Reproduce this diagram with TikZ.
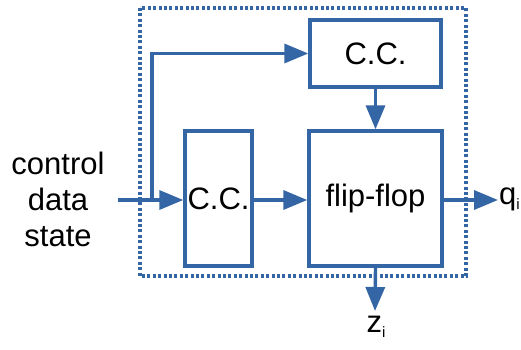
\documentclass[tikz,border=0pt]{standalone}
\usepackage{fontspec}
\setmainfont{Liberation Sans}
\usetikzlibrary{arrows.meta}
\definecolor{lineblue}{HTML}{3465A4}
\newcommand{\lowsub}[1]{\raisebox{-5pt}{\fontsize{15}{15}\selectfont #1}}
\begin{document}
\begin{tikzpicture}[x=1pt,y=-1pt,
  blk/.style={draw=lineblue,line width=3.4pt,inner sep=0pt,font=\fontsize{31}{36}\selectfont},
  flow/.style={draw=lineblue,line width=3.4pt,-{Triangle[length=24pt,width=19pt]}},
  lbl/.style={font=\fontsize{31}{36}\selectfont,inner sep=0pt}]
  \useasboundingbox (0,0) rectangle (521,350);
  % frame around the sequential cell
  \draw[lineblue,line width=3.4pt,dash pattern=on 3pt off 2.4pt] (140,8) rectangle (466,276);
  % blocks
  \node[blk,minimum width=131pt,minimum height=67pt] (cctop) at (375.5,53.5) {C.C.};
  \node[blk,minimum width=67pt,minimum height=135pt] (ccleft) at (218.5,198.5) {C.C.};
  \node[blk,minimum width=133pt,minimum height=135pt] (ff) at (375.5,198.5) {flip-flop};
  % labels
  \node[lbl,align=center] (inp) at (58,199) {control\\data\\state};
  \node[lbl,anchor=west] (q) at (499,199) {q\lowsub{i}};
  \node[lbl,anchor=north] (z) at (376,316) {z\lowsub{i}};
  \coordinate (in0) at (118,200);
  \coordinate (br) at (152,200);
  \coordinate (qend) at (498,200);
  \coordinate (zend) at (375,311);
  % connectors
  \draw[flow] (in0) -- (ccleft.west |- in0);
  \draw[flow] (br) -- (br |- cctop.west) -- (cctop.west);
  \draw[flow] (ccleft.east |- in0) -- (ff.west |- in0);
  \draw[flow] (cctop.south) -- (ff.north);
  \draw[flow] (ff.east |- in0) -- (qend);
  \draw[flow] (ff.south) -- (zend);
\end{tikzpicture}
\end{document}
